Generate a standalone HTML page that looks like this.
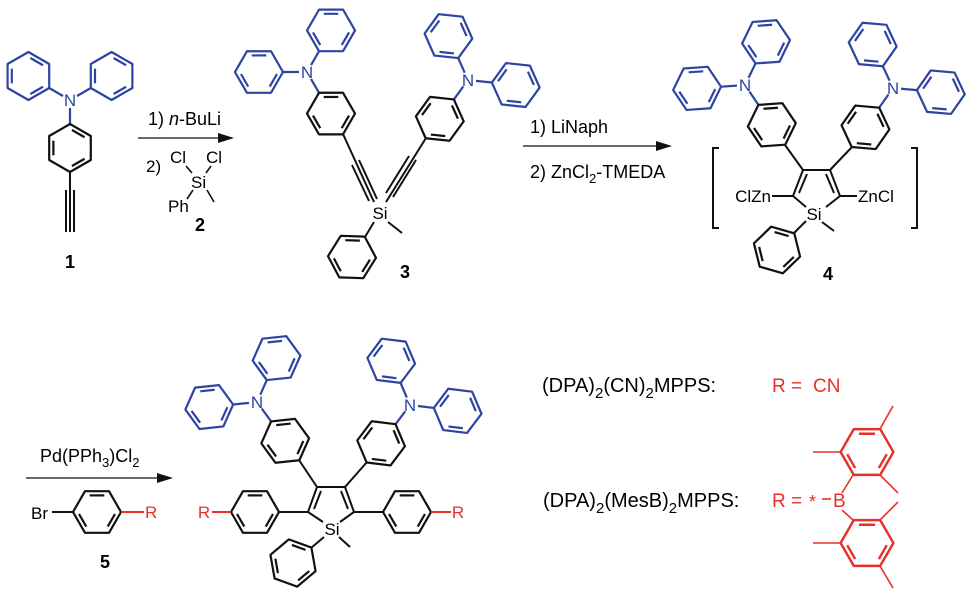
<!DOCTYPE html>
<html><head><meta charset="utf-8"><style>
html,body{margin:0;padding:0;background:#fff;}
svg{display:block;}
text{font-family:"Liberation Sans",Arial,sans-serif;}
</style></head><body>
<svg width="977" height="594" viewBox="0 0 977 594" xmlns="http://www.w3.org/2000/svg">
<defs>
<g id="hex" fill="none" stroke-width="2.2" stroke-linejoin="round">
<polygon points="0,-24 20.8,-12 20.8,12 0,24 -20.8,12 -20.8,-12"/>
<line x1="2" y1="-18" x2="14.6" y2="-10.75"/>
<line x1="14.6" y1="10.75" x2="2" y2="18"/>
<line x1="-16.6" y1="7.3" x2="-16.6" y2="-7.3"/>
</g>
<g id="tpa">
<g stroke="#2e44a2"><use href="#hex" x="-41.6" y="-24"/><use href="#hex" x="41.6" y="-24"/>
<line x1="-7" y1="-4" x2="-20.8" y2="-12" stroke-width="2.2"/><line x1="7" y1="-4" x2="20.8" y2="-12" stroke-width="2.2"/>
<line x1="0" y1="8" x2="0" y2="24" stroke-width="2.2"/></g>
<g stroke="#111"><use href="#hex" x="0" y="48"/></g>
</g>
</defs>

<!-- Compound 1 -->
<use href="#tpa" transform="translate(70,100)"/>
<text x="70" y="106" font-size="17" fill="#2e44a2" text-anchor="middle">N</text>
<g stroke="#111" stroke-width="2">
<line x1="70" y1="172" x2="70" y2="232"/><line x1="66" y1="190" x2="66" y2="232"/><line x1="74" y1="190" x2="74" y2="232"/>
</g>
<text x="70" y="268" font-size="18" font-weight="bold" text-anchor="middle">1</text>

<!-- Arrow 1 -->
<line x1="138" y1="138" x2="222" y2="138" stroke="#111" stroke-width="1.3"/>
<polygon points="234,138 218,133 218,143" fill="#111"/>
<text x="148" y="125" font-size="18">1) <tspan font-style="italic">n</tspan>-BuLi</text>
<text x="146" y="172" font-size="17">2)</text>
<text x="170" y="163" font-size="17">Cl</text>
<text x="206" y="163" font-size="17">Cl</text>
<text x="191" y="188" font-size="17">Si</text>
<text x="168" y="212" font-size="17">Ph</text>
<g stroke="#111" stroke-width="1.6">
<line x1="186" y1="166" x2="192" y2="173"/><line x1="211" y1="166" x2="206" y2="173"/>
<line x1="207" y1="190" x2="214" y2="202"/><line x1="187" y1="199" x2="193" y2="190"/>
</g>
<text x="200" y="231" font-size="18" font-weight="bold" text-anchor="middle">2</text>

<!-- Compound 3 -->
<use href="#tpa" transform="translate(307,72) rotate(-30)"/>
<text x="307" y="78" font-size="17" fill="#2e44a2" text-anchor="middle">N</text>
<use href="#tpa" transform="translate(468,80) rotate(36)"/>
<text x="468" y="86" font-size="17" fill="#2e44a2" text-anchor="middle">N</text>
<g stroke="#111" stroke-width="2">
<line x1="343" y1="134" x2="374" y2="202"/>
<line x1="359" y1="160" x2="377" y2="199"/>
<line x1="352" y1="165" x2="369" y2="201"/>
<line x1="426" y1="138" x2="386" y2="202"/>
<line x1="416" y1="160" x2="393" y2="197"/>
<line x1="409" y1="156" x2="386" y2="193"/>
<line x1="388" y1="222" x2="402" y2="233"/>
<line x1="374" y1="222" x2="365" y2="237"/>
</g>
<text x="380" y="219" font-size="17" text-anchor="middle">Si</text>
<g stroke="#111"><use href="#hex" transform="translate(352,257) rotate(-28)"/></g>
<text x="405" y="278" font-size="18" font-weight="bold" text-anchor="middle">3</text>

<!-- Arrow 2 -->
<line x1="523" y1="146" x2="660" y2="146" stroke="#111" stroke-width="1.3"/>
<polygon points="672,146 656,141 656,151" fill="#111"/>
<text x="530" y="133" font-size="18">1) LiNaph</text>
<text x="530" y="178" font-size="18">2) ZnCl<tspan font-size="13" dy="5">2</tspan><tspan dy="-5">-TMEDA</tspan></text>

<!-- Compound 4 -->
<use href="#tpa" transform="translate(745,85) rotate(-34)"/>
<text x="745" y="91" font-size="17" fill="#2e44a2" text-anchor="middle">N</text>
<use href="#tpa" transform="translate(893,88) rotate(35)"/>
<text x="893" y="94" font-size="17" fill="#2e44a2" text-anchor="middle">N</text>
<g stroke="#111" stroke-width="2" fill="none">
<line x1="785" y1="145" x2="803" y2="170"/><line x1="852" y1="147" x2="830" y2="170"/>
<polyline points="806,207 793,196 803,170 830,170 840,196 826,207"/>
<line x1="799" y1="193" x2="807" y2="174"/><line x1="834" y1="193" x2="826" y2="174"/>
<line x1="772" y1="196" x2="793" y2="196"/><line x1="840" y1="196" x2="857" y2="196"/>
<line x1="822" y1="222" x2="834" y2="231"/><line x1="806" y1="221" x2="794" y2="233"/>
<polyline points="719,148 713,148 713,228 719,228"/>
<polyline points="911,148 917,148 917,228 911,228"/>
</g>
<text x="771" y="202" font-size="17" text-anchor="end">ClZn</text>
<text x="858" y="202" font-size="17">ZnCl</text>
<text x="814" y="220" font-size="17" text-anchor="middle">Si</text>
<g stroke="#111"><use href="#hex" transform="translate(777,250) rotate(-14)"/></g>
<text x="828" y="280" font-size="18" font-weight="bold" text-anchor="middle">4</text>

<!-- Arrow 3 -->
<line x1="26" y1="478" x2="160" y2="478" stroke="#111" stroke-width="1.3"/>
<polygon points="173,478 157,473 157,483" fill="#111"/>
<text x="40" y="462" font-size="18">Pd(PPh<tspan font-size="13" dy="5">3</tspan><tspan dy="-5">)Cl</tspan><tspan font-size="13" dy="5">2</tspan></text>
<text x="31" y="519" font-size="17">Br</text>
<g stroke="#111"><use href="#hex" transform="translate(97,512) rotate(90)"/></g>
<line x1="52" y1="512" x2="73" y2="512" stroke="#111" stroke-width="2"/>
<line x1="121" y1="512" x2="144" y2="512" stroke="#e8302a" stroke-width="2"/>
<text x="145" y="518" font-size="17" fill="#e8302a">R</text>
<text x="105" y="568" font-size="18" font-weight="bold" text-anchor="middle">5</text>

<!-- Product -->
<use href="#tpa" transform="translate(257,402) rotate(-36)"/>
<text x="257" y="408" font-size="17" fill="#2e44a2" text-anchor="middle">N</text>
<use href="#tpa" transform="translate(410,405) rotate(37)"/>
<text x="410" y="411" font-size="17" fill="#2e44a2" text-anchor="middle">N</text>
<g stroke="#111" stroke-width="2" fill="none">
<line x1="299" y1="460" x2="317" y2="487"/><line x1="367" y1="462" x2="345" y2="487"/>
<polyline points="323,522 308,512 317,487 345,487 354,512 340,522"/>
<line x1="314" y1="509" x2="321" y2="491"/><line x1="348" y1="509" x2="341" y2="491"/>
<line x1="279" y1="512" x2="308" y2="512"/><line x1="354" y1="512" x2="383" y2="512"/>
<line x1="339" y1="537" x2="350" y2="547"/><line x1="324" y1="537" x2="311" y2="548"/>
</g>
<text x="332" y="535" font-size="17" text-anchor="middle">Si</text>
<g stroke="#111"><use href="#hex" transform="translate(255,512) rotate(90)"/><use href="#hex" transform="translate(407,512) rotate(90)"/><use href="#hex" transform="translate(293,563) rotate(-10)"/></g>
<line x1="212" y1="512" x2="231" y2="512" stroke="#e8302a" stroke-width="2"/>
<line x1="431" y1="512" x2="451" y2="512" stroke="#e8302a" stroke-width="2"/>
<text x="204" y="518" font-size="17" fill="#e8302a" text-anchor="middle">R</text>
<text x="458" y="518" font-size="17" fill="#e8302a" text-anchor="middle">R</text>

<!-- Legend -->
<text x="542" y="392" font-size="20">(DPA)<tspan font-size="15" dy="6">2</tspan><tspan dy="-6">(CN)</tspan><tspan font-size="15" dy="6">2</tspan><tspan dy="-6">MPPS:</tspan></text>
<text x="772" y="392" font-size="19" fill="#e8302a">R =</text>
<text x="813" y="392" font-size="19" fill="#e8302a">CN</text>
<text x="543" y="507" font-size="20">(DPA)<tspan font-size="15" dy="6">2</tspan><tspan dy="-6">(MesB)</tspan><tspan font-size="15" dy="6">2</tspan><tspan dy="-6">MPPS:</tspan></text>
<text x="772" y="507" font-size="19" fill="#e8302a">R =</text>
<text x="809" y="508" font-size="18" fill="#e8302a">*</text>
<line x1="822" y1="499" x2="831" y2="499" stroke="#e8302a" stroke-width="1.6"/>
<text x="833" y="507" font-size="19" fill="#e8302a">B</text>
<g stroke="#e8302a" stroke-width="1.6" fill="none">
<use href="#hex" transform="translate(867,452) rotate(90) scale(1.1)" stroke="#e8302a"/>
<use href="#hex" transform="translate(867,543) rotate(90) scale(1.1)" stroke="#e8302a"/>
<line x1="842" y1="493" x2="853" y2="475"/><line x1="842" y1="510" x2="853" y2="520"/>
<line x1="840" y1="452" x2="813" y2="452"/><line x1="880" y1="429" x2="893" y2="406"/><line x1="880" y1="475" x2="898" y2="493"/>
<line x1="840" y1="543" x2="813" y2="543"/><line x1="880" y1="520" x2="898" y2="502"/><line x1="880" y1="566" x2="893" y2="588"/>
</g>
</svg>
</body></html>
